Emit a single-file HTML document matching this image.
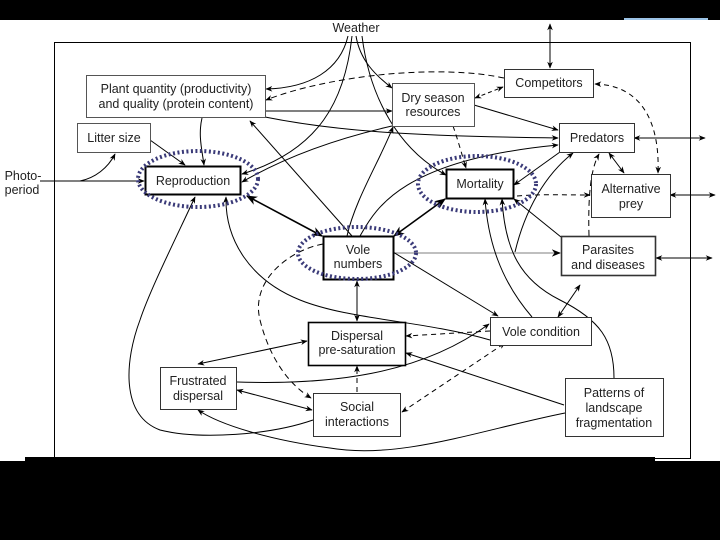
<!DOCTYPE html>
<html><head><meta charset="utf-8"><style>
html,body{margin:0;padding:0;background:#fff;}
svg{display:block;font-family:"Liberation Sans",sans-serif;}
text{font-size:12.5px;fill:#222;text-anchor:middle;}
</style></head><body>
<svg width="720" height="540" viewBox="0 0 720 540" xmlns="http://www.w3.org/2000/svg">
<defs>
<marker id="a" viewBox="0 0 10 10" refX="9" refY="5" markerWidth="7" markerHeight="7" orient="auto-start-reverse"><path d="M0,1 L10,5 L0,9 L3,5z" fill="#000"/></marker>
</defs>
<rect width="720" height="540" fill="#fff"/>
<rect x="0" y="0" width="720" height="20" fill="#000"/>
<rect x="624" y="18" width="84" height="2" fill="#9cc3e6"/>
<rect x="54.5" y="42.5" width="636" height="416" fill="none" stroke="#000" stroke-width="1"/>

<g fill="none" stroke="#000" stroke-width="1">
<path d="M348,36 C340,70 310,88 266,89" marker-end="url(#a)"/>
<path d="M352,36 C345,100 320,150 242,174" marker-end="url(#a)"/>
<path d="M356,36 C360,60 375,75 392,88" marker-end="url(#a)"/>
<path d="M362,36 C370,100 400,150 446,175" marker-end="url(#a)"/>
<path d="M550,24 L550,68" marker-start="url(#a)" marker-end="url(#a)"/>
<path d="M504,78 C440,64 330,75 266,100" stroke-dasharray="6,4" marker-end="url(#a)"/>
<path d="M265,111 L392,111" marker-end="url(#a)"/>
<path d="M265,117 C330,130 400,136 558,138" marker-end="url(#a)"/>
<path d="M392,126 C330,140 280,160 242,182" marker-end="url(#a)"/>
<path d="M202,118 C198,135 202,150 204,165" marker-end="url(#a)"/>
<path d="M150,140 L185,165" marker-end="url(#a)"/>
<path d="M40,181 L144,181" marker-end="url(#a)"/>
<path d="M80,181 C95,178 108,168 115,154" marker-end="url(#a)"/>
<path d="M352,236 L250,121" marker-end="url(#a)"/>
<path d="M247,196 L322,236" stroke-width="1.6" marker-start="url(#a)" marker-end="url(#a)"/>
<path d="M394,236 L445,199" stroke-width="1.6" marker-start="url(#a)" marker-end="url(#a)"/>
<path d="M475,98 L503,87" stroke-dasharray="4,3" marker-start="url(#a)" marker-end="url(#a)"/>
<path d="M474,105 L558,130" marker-end="url(#a)"/>
<path d="M453,126 C458,140 462,155 466,168" stroke-dasharray="5,4" marker-end="url(#a)"/>
<path d="M634,138 L705,138" marker-start="url(#a)" marker-end="url(#a)"/>
<path d="M595,84 C640,85 660,120 658,173" stroke-dasharray="5,4" marker-start="url(#a)" marker-end="url(#a)"/>
<path d="M609,153 L624,173" marker-start="url(#a)" marker-end="url(#a)"/>
<path d="M560,152 L514,185" marker-end="url(#a)"/>
<path d="M670,195 L715,195" marker-start="url(#a)" marker-end="url(#a)"/>
<path d="M656,258 L712,258" marker-start="url(#a)" marker-end="url(#a)"/>
<path d="M393,253 L560,253" stroke="#999" stroke-width="1.3" marker-end="url(#a)"/>
<path d="M517,196 C540,194 560,195 590,195" stroke-dasharray="5,4" marker-end="url(#a)"/>
<path d="M589,236 C588,200 590,170 599,154" stroke-dasharray="6,4" marker-end="url(#a)"/>
<path d="M561,237 L514,199" marker-end="url(#a)"/>
<path d="M515,252 C525,210 545,175 573,153" marker-end="url(#a)"/>
<path d="M393,252 L498,316" marker-end="url(#a)"/>
<path d="M532,317 C500,280 488,240 485,199" marker-end="url(#a)"/>
<path d="M614,378 C614,340 600,320 560,300 C520,280 505,250 502,199" marker-end="url(#a)"/>
<path d="M558,317 L580,285" marker-start="url(#a)" marker-end="url(#a)"/>
<path d="M490,331 L406,336" stroke-dasharray="5,4" marker-end="url(#a)"/>
<path d="M357,281 L357,321" marker-start="url(#a)" marker-end="url(#a)"/>
<path d="M307,341 L198,364" marker-start="url(#a)" marker-end="url(#a)"/>
<path d="M237,382 C330,385 420,375 489,324" marker-end="url(#a)"/>
<path d="M237,390 L312,410" marker-start="url(#a)" marker-end="url(#a)"/>
<path d="M357,392 L357,366" stroke-dasharray="5,4" marker-end="url(#a)"/>
<path d="M402,412 L505,343" stroke-dasharray="5,4" marker-start="url(#a)" marker-end="url(#a)"/>
<path d="M564,405 L406,353" marker-end="url(#a)"/>
<path d="M565,413 C480,430 400,460 330,448 C270,440 220,425 198,410" marker-end="url(#a)"/>
<path d="M323,244 C290,250 250,280 260,320 C270,360 290,385 311,398" stroke-dasharray="6,4" marker-end="url(#a)"/>
<path d="M313,420 C270,435 200,440 160,430 C120,415 125,360 140,320 C150,290 175,240 195,197" marker-end="url(#a)"/>
<path d="M490,340 C420,320 350,320 300,300 C250,280 225,240 226,197" marker-end="url(#a)"/>
<path d="M347,236 C355,200 380,160 393,127" marker-end="url(#a)"/>
<path d="M360,236 C375,210 400,160 558,145" marker-end="url(#a)"/>
</g>

<g fill="#fff" stroke="#000">
<rect x="86.5" y="75.5" width="179" height="42" stroke="#555"/>
<rect x="77.5" y="123.5" width="73" height="29" stroke="#555"/>
<rect x="145.5" y="166.5" width="95" height="28" stroke-width="2"/>
<rect x="392.5" y="83.5" width="82" height="43" stroke="#555"/>
<rect x="504.5" y="69.5" width="89" height="28" stroke="#333"/>
<rect x="559.5" y="123.5" width="75" height="29" stroke="#333"/>
<rect x="446.5" y="169.5" width="67" height="29" stroke-width="2"/>
<rect x="591.5" y="174.5" width="79" height="43" stroke="#333"/>
<rect x="561.5" y="236.5" width="94" height="39" stroke="#333" stroke-width="1.6"/>
<rect x="323.5" y="236.5" width="70" height="43" stroke-width="2"/>
<rect x="308.5" y="322.5" width="97" height="43" stroke-width="1.6"/>
<rect x="490.5" y="317.5" width="101" height="28" stroke="#333"/>
<rect x="160.5" y="367.5" width="76" height="42" stroke="#333"/>
<rect x="313.5" y="393.5" width="87" height="43" stroke="#333"/>
<rect x="565.5" y="378.5" width="98" height="58" stroke="#333"/>
</g>

<g fill="none" stroke="#3a3a78" stroke-width="4" stroke-dasharray="2,2.5">
<ellipse cx="198" cy="179" rx="60" ry="28"/>
<ellipse cx="477" cy="184" rx="59" ry="28"/>
<ellipse cx="357" cy="253" rx="59" ry="26"/>
</g>

<text x="356" y="32">Weather</text>
<text x="176" y="93">Plant quantity (productivity)</text>
<text x="176" y="108">and quality (protein content)</text>
<text x="114" y="142">Litter size</text>
<text x="23" y="180">Photo-</text>
<text x="22" y="194">period</text>
<text x="193" y="185">Reproduction</text>
<text x="433" y="102">Dry season</text>
<text x="433" y="116">resources</text>
<text x="549" y="87">Competitors</text>
<text x="597" y="142">Predators</text>
<text x="480" y="188">Mortality</text>
<text x="631" y="193">Alternative</text>
<text x="631" y="208">prey</text>
<text x="608" y="254">Parasites</text>
<text x="608" y="269">and diseases</text>
<text x="358" y="254">Vole</text>
<text x="358" y="268">numbers</text>
<text x="357" y="340">Dispersal</text>
<text x="357" y="354">pre-saturation</text>
<text x="541" y="336">Vole condition</text>
<text x="198" y="385">Frustrated</text>
<text x="198" y="400">dispersal</text>
<text x="357" y="411">Social</text>
<text x="357" y="426">interactions</text>
<text x="614" y="397">Patterns of</text>
<text x="614" y="412">landscape</text>
<text x="614" y="427">fragmentation</text>

<rect x="25" y="457" width="630" height="5" fill="#000"/>
<rect x="0" y="461" width="720" height="79" fill="#000"/>
</svg>
</body></html>
